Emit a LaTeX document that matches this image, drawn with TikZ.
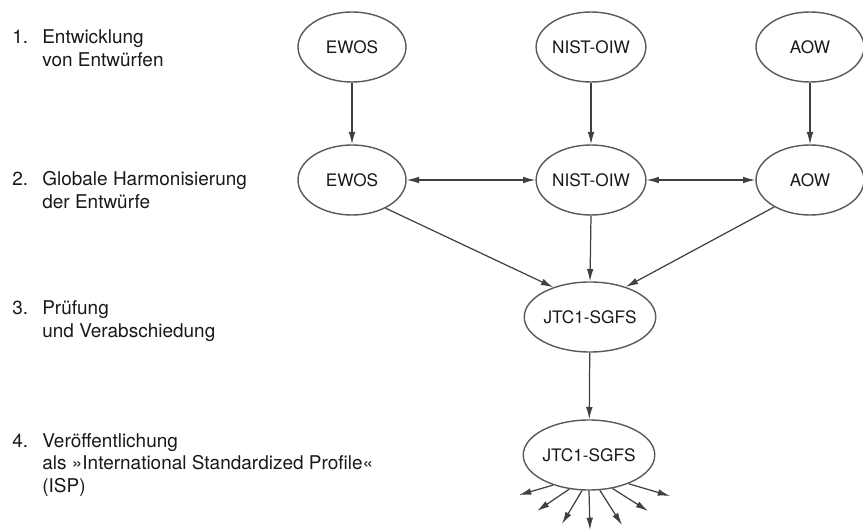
\documentclass[tikz,border=0pt]{standalone}
\usepackage{fontspec}
\setmainfont{TeX Gyre Heros}
\usetikzlibrary{arrows.meta,shapes.geometric}
\tikzset{
	gremium/.style={ellipse, draw=black!65, line width=0.8pt, minimum width=2.16cm, minimum height=1.4cm, inner sep=0pt, text=black!90, font=\fontsize{9.8}{12}\selectfont},
	pfeil/.style={draw=black!75, line width=0.7pt, -{Latex[length=7pt,width=3.8pt]}},
	doppelpfeil/.style={draw=black!75, line width=0.7pt, {Latex[length=7pt,width=3.8pt]}-{Latex[length=7pt,width=3.8pt]}},
	phase/.style={anchor=base west, inner sep=0pt, text=black!90, font=\fontsize{10.8}{13}\selectfont}
}

\begin{document}
\begin{tikzpicture}
			%%%%% START %%%%%
			
			\useasboundingbox (0, 0) rectangle (17.26, 10.62);
			
			\node[phase] (p1) at (0.24, 9.74) {\begin{tabular}[t]{@{}p{0.6cm}@{}l@{}}1. & Entwicklung\\ & von Entwürfen\end{tabular}};
			\node[phase] (p2) at (0.24, 6.90) {\begin{tabular}[t]{@{}p{0.6cm}@{}l@{}}2. & Globale Harmonisierung\\ & der Entwürfe\end{tabular}};
			\node[phase] (p3) at (0.24, 4.32) {\begin{tabular}[t]{@{}p{0.6cm}@{}l@{}}3. & Prüfung\\ & und Verabschiedung\end{tabular}};
			\node[phase] (p4) at (0.24, 1.68) {\begin{tabular}[t]{@{}p{0.6cm}@{}l@{}}4. & Veröffentlichung\\ & als »International Standardized Profile«\\ & (ISP)\end{tabular}};
			
			\node[gremium] (ewos1) at (7.04, 9.68) {EWOS};
			\node[gremium] (nist1) at (11.82, 9.68) {NIST-OIW};
			\node[gremium] (aow1) at (16.2, 9.68) {AOW};
			
			\node[gremium] (ewos2) at (7.04, 7.02) {EWOS};
			\node[gremium] (nist2) at (11.82, 7.02) {NIST-OIW};
			\node[gremium] (aow2) at (16.2, 7.02) {AOW};
			
			\node[gremium] (jtc1) at (11.8, 4.28) {JTC1-SGFS};
			\node[gremium] (jtc2) at (11.78, 1.52) {JTC1-SGFS};
			
			\draw[pfeil] (ewos1) -- (ewos2);
			\draw[pfeil] (nist1) -- (nist2);
			\draw[pfeil] (aow1) -- (aow2);
			
			\draw[doppelpfeil] (ewos2) -- (nist2);
			\draw[doppelpfeil] (nist2) -- (aow2);
			
			\draw[pfeil] (ewos2.-40) -- (jtc1.141);
			\draw[pfeil] (nist2.-90) -- (jtc1.90);
			\draw[pfeil] (aow2.217) -- (jtc1.40);
			
			\draw[pfeil] (jtc1) -- (jtc2);
			
			\coordinate (f1) at (10.38, 0.72);
			\coordinate (f2) at (10.74, 0.40);
			\coordinate (f3) at (11.24, 0.14);
			\coordinate (f4) at (11.80, 0.02);
			\coordinate (f5) at (12.44, 0.12);
			\coordinate (f6) at (12.96, 0.40);
			\coordinate (f7) at (13.40, 0.70);
			\draw[pfeil] (jtc2.220) -- (f1);
			\draw[pfeil] (jtc2.240) -- (f2);
			\draw[pfeil] (jtc2.259) -- (f3);
			\draw[pfeil] (jtc2.270) -- (f4);
			\draw[pfeil] (jtc2.287) -- (f5);
			\draw[pfeil] (jtc2.305) -- (f6);
			\draw[pfeil] (jtc2.324) -- (f7);
			
			%%%%% END %%%%%
\end{tikzpicture}
\end{document}
